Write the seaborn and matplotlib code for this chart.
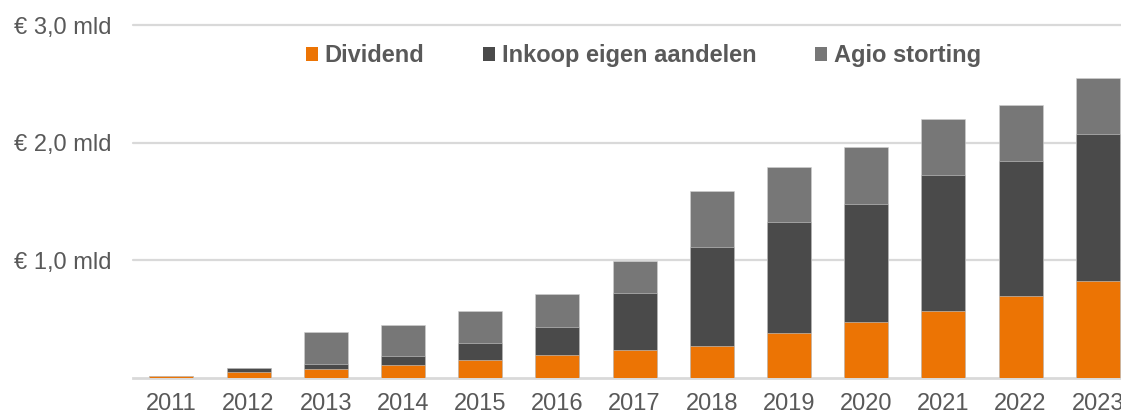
import numpy as np
import matplotlib
matplotlib.use("Agg")
import matplotlib.pyplot as plt
import seaborn as sns
from matplotlib.patches import Patch

years = [str(y) for y in range(2011, 2024)]
dividend = [0.015, 0.045, 0.075, 0.11, 0.145, 0.19, 0.23, 0.27, 0.38, 0.47, 0.57, 0.69, 0.82]
inkoop = [0.0, 0.04, 0.04, 0.07, 0.15, 0.24, 0.49, 0.84, 0.94, 1.01, 1.15, 1.15, 1.25]
agio = [0.0, 0.0, 0.27, 0.27, 0.27, 0.28, 0.27, 0.48, 0.47, 0.48, 0.48, 0.48, 0.48]
series_names = ["Dividend", "Inkoop eigen aandelen", "Agio storting"]
yticks = [1.0, 2.0, 3.0]
ytick_labels = ["€ 1,0 mld", "€ 2,0 mld", "€ 3,0 mld"]

colors = ["#ec7404", "#4a4a4a", "#777777"]
text_color = "#595959"
grid_color = "#d9d9d9"

sns.set_style("white")
plt.rcParams["font.family"] = ["Liberation Sans", "DejaVu Sans"]

fig = plt.figure(figsize=(11.21, 4.17), dpi=100)
ax = fig.add_axes([0.1184, 0.0947, 0.8953, 0.8453])

# stacked bars: draw cumulative totals from back to front
d = np.array(dividend)
ink_top = d + np.array(inkoop)
total = ink_top + np.array(agio)
for vals, col in zip([total, ink_top, d], colors[::-1]):
    sns.barplot(x=years, y=vals, color=col, width=0.57, saturation=1,
                edgecolor="#d0d0d0", linewidth=0.4, ax=ax, zorder=3)

ax.set_xlim(-0.5, 12.5)
ax.set_ylim(0, 3.0)
ax.set_yticks(yticks)
ax.set_yticklabels(ytick_labels)
for yv in yticks:
    ax.axhline(yv, color=grid_color, lw=1.6, zorder=1, clip_on=False)

for s in ["top", "right", "left"]:
    ax.spines[s].set_visible(False)
ax.spines["bottom"].set_color(grid_color)
ax.spines["bottom"].set_linewidth(2)
ax.spines["bottom"].set_zorder(2)

ax.tick_params(axis="y", length=0, pad=15, labelsize=17, labelcolor=text_color)
ax.tick_params(axis="x", which="major", length=0, pad=11, labelsize=17, labelcolor=text_color)
ax.set_xticks(np.arange(-0.5, 13, 1), minor=True)
ax.tick_params(axis="x", which="minor", length=7, width=2, color=grid_color)
ax.set_xlabel("")
ax.set_ylabel("")

handles = [Patch(facecolor=c, edgecolor="none") for c in colors]
leg = fig.legend(handles, series_names, loc="center", bbox_to_anchor=(0.574, 0.866),
                 ncol=3, frameon=False, handlelength=0.5, handleheight=0.5,
                 handletextpad=0.28, columnspacing=2.5,
                 prop={"size": 17, "weight": "bold"})
for t in leg.get_texts():
    t.set_color(text_color)

fig.savefig("out.png", dpi=100)
